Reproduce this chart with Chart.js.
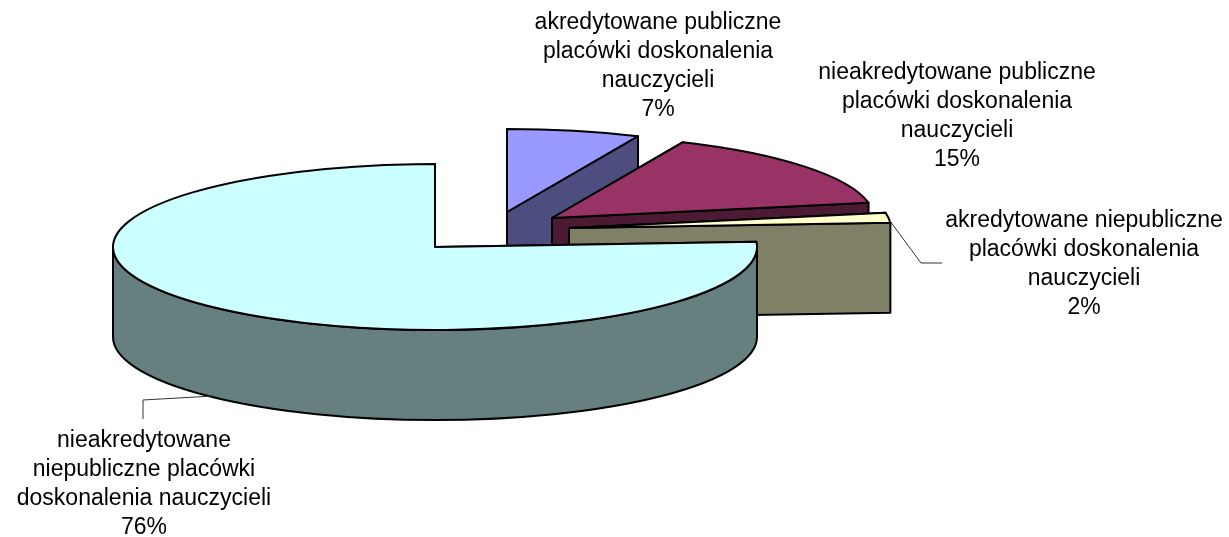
<!DOCTYPE html>
<html>
<head>
<meta charset="utf-8">
<title>Placówki doskonalenia nauczycieli</title>
<script src="https://cdn.jsdelivr.net/npm/chart.js@4/dist/chart.umd.js"></script>
<style>
  html, body { margin: 0; padding: 0; background: #fff; overflow: hidden; }
  canvas { display: block; }
</style>
</head>
<body>
<canvas id="pie" width="1229" height="537"></canvas>
<script>
// data
const categories = [
  'akredytowane publiczne placówki doskonalenia nauczycieli',
  'nieakredytowane publiczne placówki doskonalenia nauczycieli',
  'akredytowane niepubliczne placówki doskonalenia nauczycieli',
  'nieakredytowane niepubliczne placówki doskonalenia nauczycieli'
];
const shares = [6.67, 15.4, 1.93, 76];

// label wrapping as in the original
const labelLines = [
  ['akredytowane publiczne', 'placówki doskonalenia', 'nauczycieli'],
  ['nieakredytowane publiczne', 'placówki doskonalenia', 'nauczycieli'],
  ['akredytowane niepubliczne', 'placówki doskonalenia', 'nauczycieli'],
  ['nieakredytowane', 'niepubliczne placówki', 'doskonalenia nauczycieli']
];

// styles
const topColors = ['#9999FF', '#993366', '#FFFFCC', '#CCFFFF'];
const sideColors = ['#4D4D80', '#4D1A33', '#808066', '#668080'];
const RADIUS = 322;
const TILT = 83 / 322;
const DEPTH = 90;
// where each exploded slice has its tip
const tips = [[507, 212], [552, 218], [569, 228], [435, 247]];
const labelPos = [[658, 28.5], [957, 78.5], [1084, 226.5], [144, 446.5]];
const LINE_STEP = 29.1;
const leaders = [
  null,
  null,
  [[890, 221], [921, 263], [942, 263]],
  [[213, 396], [143, 400], [143, 419]]
];

const pie3d = {
  id: 'pie3d',
  beforeDatasetDraw(chart, args) {
    const ctx = chart.ctx;
    const arcs = args.meta.data;
    ctx.lineWidth = 2;
    ctx.lineJoin = 'round';
    ctx.strokeStyle = '#000';

    arcs.forEach((arc, i) => {
      const [tx, ty] = tips[i];
      const { startAngle, endAngle, outerRadius } = arc.getProps(['startAngle', 'endAngle', 'outerRadius'], true);
      const rx = outerRadius;
      const ry = outerRadius * TILT;
      const rim = a => [tx + Math.cos(a) * rx, ty + Math.sin(a) * ry];

      // cut faces, back one first
      [startAngle, endAngle].forEach(a => {
        const [px, py] = rim(a);
        ctx.beginPath();
        ctx.moveTo(tx, ty);
        ctx.lineTo(px, py);
        ctx.lineTo(px, py + DEPTH);
        ctx.lineTo(tx, ty + DEPTH);
        ctx.closePath();
        ctx.fillStyle = sideColors[i];
        ctx.fill();
        ctx.stroke();
      });

      // outer wall, only the part facing us
      const from = Math.max(startAngle, 0);
      const to = Math.min(endAngle, Math.PI);
      if (to > from) {
        ctx.beginPath();
        ctx.ellipse(tx, ty, rx, ry, 0, from, to);
        ctx.ellipse(tx, ty + DEPTH, rx, ry, 0, to, from, true);
        ctx.closePath();
        ctx.fillStyle = sideColors[i];
        ctx.fill();
        ctx.stroke();
      }

      // top face: the library's arc, squashed
      ctx.save();
      ctx.translate(tx, ty);
      ctx.scale(1, TILT);
      ctx.translate(-arc.x, -arc.y);
      arc.draw(ctx);
      ctx.restore();

      ctx.beginPath();
      ctx.moveTo(tx, ty);
      ctx.ellipse(tx, ty, rx, ry, 0, startAngle, endAngle);
      ctx.closePath();
      ctx.stroke();
    });
    return false; // arcs already painted
  },
  afterDraw(chart) {
    const ctx = chart.ctx;
    const values = chart.data.datasets[0].data;
    const total = values.reduce((a, b) => a + b, 0);

    ctx.save();
    ctx.strokeStyle = '#333';
    ctx.lineWidth = 1;
    leaders.forEach(pts => {
      if (!pts) return;
      ctx.beginPath();
      pts.forEach(([x, y], k) => (k ? ctx.lineTo(x, y) : ctx.moveTo(x, y)));
      ctx.stroke();
    });

    ctx.fillStyle = '#000';
    ctx.font = '23px "Liberation Sans", Arial, sans-serif';
    ctx.textAlign = 'center';
    ctx.textBaseline = 'alphabetic';
    labelLines.forEach((lines, i) => {
      const [x, y] = labelPos[i];
      const pct = Math.round(values[i] / total * 100) + '%';
      [...lines, pct].forEach((line, k) => ctx.fillText(line, x, y + k * LINE_STEP));
    });
    ctx.restore();
  }
};

new Chart(document.getElementById('pie'), {
  type: 'pie',
  data: {
    labels: categories,
    datasets: [{
      data: shares,
      backgroundColor: topColors,
      borderWidth: 0,
      radius: RADIUS
    }]
  },
  options: {
    responsive: false,
    animation: false,
    events: [],
    plugins: {
      legend: { display: false },
      tooltip: { enabled: false }
    }
  },
  plugins: [pie3d]
});
</script>
</body>
</html>
